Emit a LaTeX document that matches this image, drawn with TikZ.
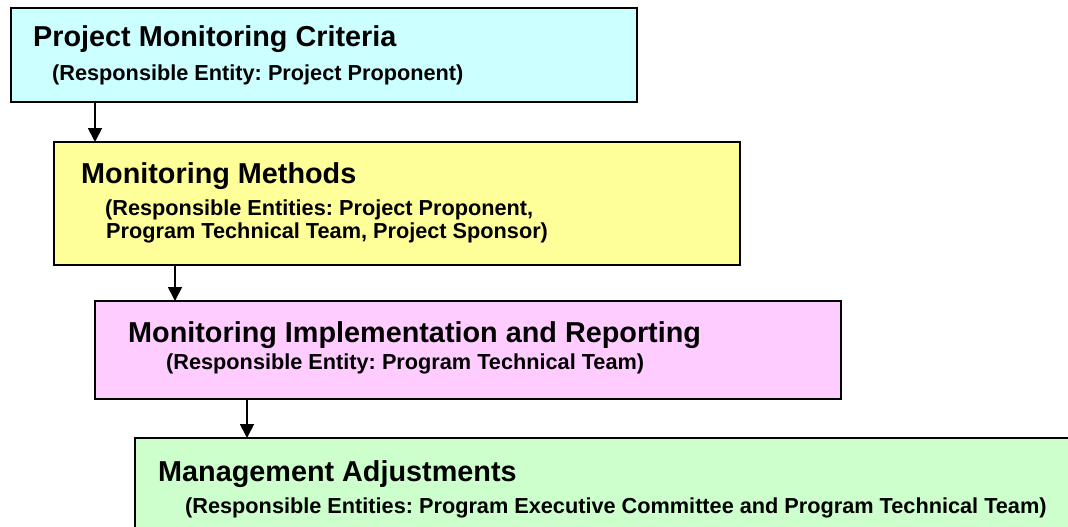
\documentclass[tikz,border=0pt]{standalone}
\usepackage{fontspec}
\setmainfont{Liberation Sans}
\usetikzlibrary{arrows.meta}
\definecolor{cyanfill}{HTML}{CCFFFF}
\definecolor{yellowfill}{HTML}{FFFF99}
\definecolor{pinkfill}{HTML}{FFCCFF}
\definecolor{greenfill}{HTML}{CCFFCC}
\frenchspacing
\begin{document}
\begin{tikzpicture}[x=1pt,y=-1pt,
  box/.style={draw=black,line width=1.6pt,anchor=north west,inner sep=0pt,outer sep=0pt},
  ttl/.style={anchor=base west,inner sep=0pt,font=\fontsize{28.8}{34}\selectfont\bfseries},
  sub/.style={anchor=base west,inner sep=0pt,font=\fontsize{21.7}{24}\selectfont\bfseries},
  arr/.style={line width=1.8pt,-{Triangle[width=14pt,length=14pt]}}]
\useasboundingbox (0,0) rectangle (1068,527);
\clip (0,0) rectangle (1068,527);
% boxes
\node[box,fill=cyanfill,minimum width=626pt,minimum height=94pt] (b1) at (11,8) {};
\node[box,fill=yellowfill,minimum width=686pt,minimum height=123pt] (b2) at (54,142) {};
\node[box,fill=pinkfill,minimum width=746pt,minimum height=98pt] (b3) at (95,301) {};
\node[box,fill=greenfill,minimum width=945pt,minimum height=110pt] (b4) at (135,438) {};
% texts
\node[ttl] (t1) at (33,47) {Project Monitoring Criteria};
\node[sub] (s1) at (52,81) {(Responsible Entity: Project Proponent)};
\node[ttl] (t2) at (81,183) {Monitoring Methods};
\node[sub] (s2a) at (105,215) {(Responsible Entities: Project Proponent,};
\node[sub] (s2b) at (106,238) {Program Technical Team, Project Sponsor)};
\node[ttl] (t3) at (128,342) {Monitoring Implementation and Reporting};
\node[sub] (s3) at (166,369) {(Responsible Entity: Program Technical Team)};
\node[ttl] (t4) at (158,481) {Management Adjustments};
\node[sub] (s4) at (185,513) {(Responsible Entities: Program Executive Committee and Program Technical Team)};
% connectors
\draw[arr] (b1.south -| 95,0) -- (b2.north -| 95,0);
\draw[arr] (b2.south -| 175,0) -- (b3.north -| 175,0);
\draw[arr] (b3.south -| 247,0) -- (b4.north -| 247,0);
\end{tikzpicture}
\end{document}
